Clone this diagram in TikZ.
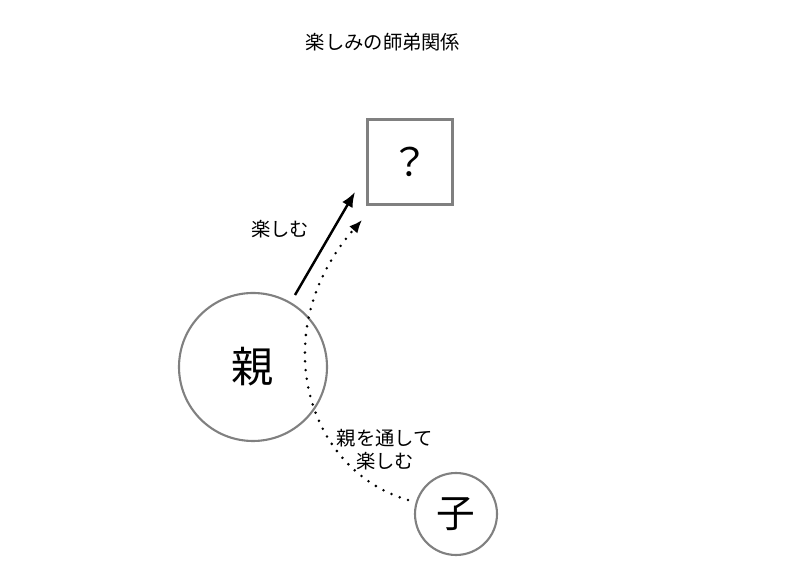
\documentclass[tikz,border=0pt]{standalone}
\usepackage{fontspec}
\setmainfont{Noto Sans CJK JP}
\usetikzlibrary{arrows.meta, positioning}
\definecolor{ringGray}{RGB}{128,128,128}
\tikzstyle{ring}=[draw=ringGray, line width=1.2pt, circle, inner sep=0]
\tikzstyle{box}=[draw=ringGray, line width=1.2pt, minimum size=1.7cm, inner sep=0]
\tikzstyle{textNode}=[draw=none, inner sep=1mm, font=\fontsize{11}{13}\selectfont]
\tikzstyle{line}=[draw=black, line width=1.4pt, -{Latex[length=3mm, width=2.4mm]}]
\tikzstyle{dots}=[draw=black, line width=1.6pt, line cap=round, dash pattern=on 0pt off 5pt, -{Latex[length=2.6mm, width=2.2mm]}]
\begin{document}
\begin{tikzpicture}[]
\useasboundingbox (0,0) rectangle (16,11.5);

% Title
\node[textNode] (title) at (7.66,10.66) {楽しみの師弟関係};

% Nodes
\node[box, font=\fontsize{22}{22}\selectfont] (goal) at (8.2,8.26) {？};
\node[ring, minimum size=2.96cm, font=\fontsize{24}{24}\selectfont] (parent) at (5.06,4.16) {親};
\node[ring, minimum size=1.64cm, font=\fontsize{22}{22}\selectfont] (child) at (9.12,1.22) {子};

% Useful coordinates
\coordinate (solidStart) at (5.9,5.6);
\coordinate (solidEnd) at (7.1,7.66);
\coordinate (dotStart) at (8.16,1.5);
\coordinate (dotEnd) at (7.24,7.1);

% Connectors
\draw[line] (solidStart) -- (solidEnd);
\draw[dots] (dotStart) .. controls (6.1,2.1) and (5.3,4.9) .. (dotEnd);

% Labels
\node[textNode] (enjoy) at (5.6,6.92) {楽しむ};
\node[textNode, align=center] (via) at (7.7,2.5) {親を通して\\楽しむ};

\end{tikzpicture}
\end{document}
